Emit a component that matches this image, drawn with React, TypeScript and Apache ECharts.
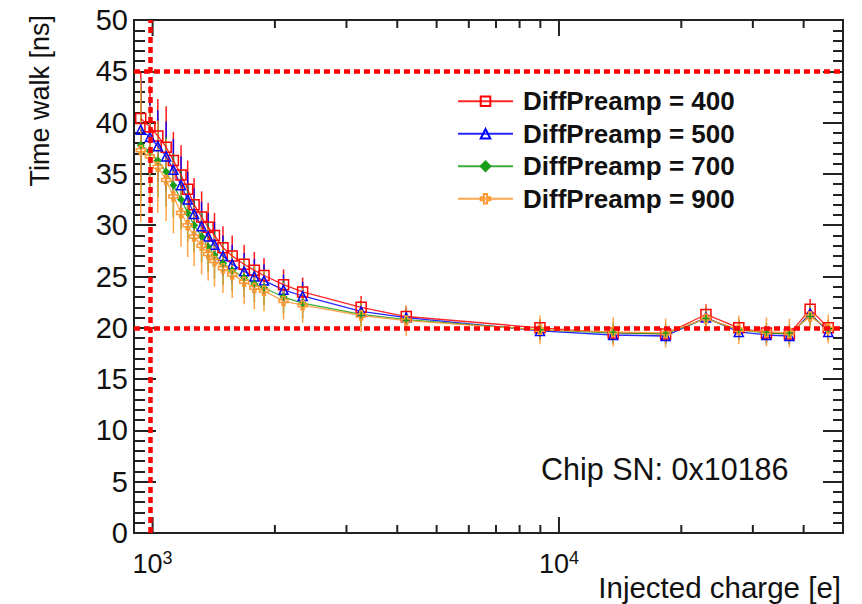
import React, { useEffect, useRef } from "react";
import * as echarts from "echarts";

const CHARGE = [935, 985, 1030, 1080, 1125, 1175, 1220, 1265, 1320, 1370, 1420, 1490, 1570, 1680, 1780, 1880, 2100, 2340, 3260, 4210, 8980, 13600, 18300, 23000, 27700, 32400, 36900, 41500, 46000];

const VAL_400 = [40.4, 39.6, 38.7, 37.6, 36.3, 34.9, 33.5, 32.0, 30.8, 29.8, 29.0, 27.8, 27.0, 26.2, 25.6, 25.1, 24.2, 23.5, 22.0, 21.1, 20.0, 19.5, 19.4, 21.3, 20.0, 19.5, 19.4, 21.8, 20.0];
const ERR_400 = [4.6, 4.0, 3.6, 4.0, 2.8, 2.9, 2.8, 2.6, 2.5, 2.4, 2.2, 2.1, 2.0, 1.9, 1.8, 1.7, 1.5, 1.4, 1.1, 1.0, 0.8, 0.7, 0.7, 1.0, 0.7, 0.7, 0.7, 1.0, 0.7];

const VAL_500 = [39.3, 38.6, 37.7, 36.7, 35.4, 33.9, 32.5, 31.1, 29.9, 28.9, 28.1, 27.0, 26.2, 25.5, 25.0, 24.6, 23.7, 23.1, 21.6, 21.0, 19.7, 19.3, 19.2, 21.0, 19.6, 19.3, 19.2, 21.4, 19.6];
const ERR_500 = [5.0, 3.8, 3.5, 3.4, 3.0, 2.8, 2.7, 2.5, 2.4, 2.3, 2.2, 2.0, 1.9, 1.8, 1.7, 1.6, 1.5, 1.4, 1.1, 1.0, 0.8, 0.8, 0.8, 1.0, 0.8, 0.8, 0.8, 1.0, 0.8];

const VAL_700 = [37.8, 37.2, 36.3, 35.2, 33.9, 32.5, 31.2, 30.0, 28.9, 27.9, 27.1, 26.3, 25.6, 24.9, 24.3, 23.9, 23.0, 22.4, 21.3, 20.8, 19.8, 19.5, 19.4, 20.9, 19.8, 19.5, 19.4, 21.2, 19.8];
const ERR_700 = [5.5, 4.0, 3.6, 3.4, 3.1, 2.9, 2.8, 2.6, 2.5, 2.4, 2.3, 2.1, 2.0, 1.9, 1.8, 1.7, 1.6, 1.5, 1.2, 1.1, 1.0, 1.0, 1.0, 1.0, 1.0, 1.0, 1.0, 1.0, 1.0];

const VAL_900 = [37.3, 36.7, 35.7, 34.4, 32.8, 31.2, 30.0, 28.9, 28.0, 27.2, 26.5, 25.8, 25.2, 24.5, 23.9, 23.6, 22.6, 22.2, 21.2, 20.7, 19.8, 19.6, 19.5, 20.9, 19.8, 19.6, 19.5, 21.1, 19.9];
const ERR_900 = [7.0, 5.0, 4.5, 4.0, 3.6, 3.3, 3.1, 2.9, 2.8, 2.6, 2.5, 2.4, 2.3, 2.2, 2.1, 2.0, 1.8, 1.7, 1.6, 1.5, 1.4, 1.4, 1.4, 1.3, 1.4, 1.4, 1.4, 1.3, 1.4];

const SERIES_NAMES = ["DiffPreamp = 400", "DiffPreamp = 500", "DiffPreamp = 700", "DiffPreamp = 900"];

const X_MAJOR_TICKS = [1000, 10000];
const X_MINOR_TICKS = [2000, 3000, 4000, 5000, 6000, 7000, 8000, 9000, 20000, 30000, 40000];

const H_LINES = [45, 20];
const V_LINE = 985;

const CHIP_LABEL = "Chip SN: 0x10186";

const FONT = "'Liberation Sans', Arial, Helvetica, sans-serif";
const CROSS = "path://M3,0 L6,0 L6,3 L9,3 L9,6 L6,6 L6,9 L3,9 L3,6 L0,6 L0,3 L3,3 Z";

export default function App() {
  const ref = useRef<HTMLDivElement>(null);

  useEffect(() => {
    if (!ref.current) return;
    const chart = echarts.init(ref.current, null, { renderer: "svg" });

    const defs = [
      { name: SERIES_NAMES[0], vals: VAL_400, errs: ERR_400, color: "#ff0000", symbol: "rect", size: 10, fill: "rgba(255,255,255,0)" },
      { name: SERIES_NAMES[1], vals: VAL_500, errs: ERR_500, color: "#0000ff", symbol: "triangle", size: 9, fill: "rgba(255,255,255,0)" },
      { name: SERIES_NAMES[2], vals: VAL_700, errs: ERR_700, color: "#1a9e1a", symbol: "diamond", size: 6, fill: "#1a9e1a" },
      { name: SERIES_NAMES[3], vals: VAL_900, errs: ERR_900, color: "#ff9933", symbol: CROSS, size: 9, fill: "rgba(255,255,255,0)" },
    ];

    const series: any[] = [];
    defs.forEach((d) => {
      series.push({
        type: "custom",
        name: d.name + " err",
        silent: true,
        clip: false,
        data: CHARGE.map((x, i) => [x, d.vals[i], d.errs[i]]),
        renderItem: (params: any, api: any) => {
          const x = api.value(0);
          const y = api.value(1);
          const e = api.value(2);
          const p1 = api.coord([x, y - e]);
          const p2 = api.coord([x, y + e]);
          return {
            type: "line",
            shape: { x1: p1[0], y1: p1[1], x2: p2[0], y2: p2[1] },
            style: { stroke: d.color, lineWidth: 1.5, opacity: 0.9 },
          };
        },
      });
      series.push({
        type: "line",
        name: d.name,
        data: CHARGE.map((x, i) => [x, d.vals[i]]),
        symbol: d.symbol,
        symbolSize: d.size,
        showAllSymbol: true,
        lineStyle: { color: d.color, width: 1.3, opacity: 0.85 },
        itemStyle: { color: d.fill, borderColor: d.color, borderWidth: 1.5 },
        emphasis: { disabled: true },
      });
    });

    const tickData = [
      ...X_MAJOR_TICKS.map((v) => [v, 0, 1]),
      ...X_MINOR_TICKS.map((v) => [v, 0, 0]),
    ];
    series.push({
      type: "custom",
      name: "xticks",
      silent: true,
      clip: false,
      data: tickData,
      renderItem: (params: any, api: any) => {
        const cs = params.coordSys;
        const x = api.coord([api.value(0), 0])[0];
        const len = api.value(2) === 1 ? 16 : 8;
        const bottom = cs.y + cs.height;
        const top = cs.y;
        return {
          type: "group",
          children: [
            { type: "line", shape: { x1: x, y1: bottom, x2: x, y2: bottom - len }, style: { stroke: "#222", lineWidth: 2 } },
            { type: "line", shape: { x1: x, y1: top, x2: x, y2: top + len }, style: { stroke: "#222", lineWidth: 2 } },
          ],
        };
      },
      markLine: {
        silent: true,
        symbol: "none",
        label: { show: false },
        animation: false,
        lineStyle: { color: "#ff0000", width: 4.5, type: [6, 4], opacity: 1 },
        data: [...H_LINES.map((v) => ({ yAxis: v })), { xAxis: V_LINE }],
      },
    });

    const yAxisBase = {
      type: "value",
      min: 0,
      max: 50,
      interval: 5,
      splitLine: { show: false },
      axisLine: { show: false },
      minorTick: { show: true, splitNumber: 5, length: 11, lineStyle: { color: "#222", width: 2 } },
      axisTick: { show: true, inside: true, length: 22, lineStyle: { color: "#222", width: 2 } },
    };

    chart.setOption({
      animation: false,
      backgroundColor: "#ffffff",
      grid: { left: 134, right: 19, top: 20, bottom: 71, show: true, borderColor: "#222", borderWidth: 2, backgroundColor: "transparent" },
      legend: {
        orient: "vertical",
        left: 452,
        top: 80,
        itemWidth: 55,
        itemHeight: 12,
        itemGap: 0,
        data: SERIES_NAMES,
        selectedMode: false,
        textStyle: { fontFamily: FONT, fontWeight: "bold", fontSize: 26, color: "#111", lineHeight: 32.5, padding: [0, 0, 0, 5] },
      },
      xAxis: {
        type: "log",
        logBase: 10,
        min: 900,
        max: 50000,
        splitLine: { show: false },
        axisLine: { show: false },
        axisTick: { show: false },
        minorTick: { show: false },
        axisLabel: {
          margin: 16,
          showMinLabel: false,
          showMaxLabel: false,
          formatter: (v: number) => {
            const e = Math.round(Math.log10(v));
            if (Math.abs(v - Math.pow(10, e)) < 1e-6 * v) return `{b|10}{s|${e}}`;
            return "";
          },
          rich: {
            b: { fontFamily: FONT, fontSize: 27, color: "#111", lineHeight: 30 },
            s: { fontFamily: FONT, fontSize: 18, color: "#111", verticalAlign: "top", lineHeight: 18 },
          },
        },
      },
      yAxis: [
        {
          ...yAxisBase,
          position: "left",
          axisLabel: { margin: 6, fontFamily: FONT, fontSize: 29, color: "#111" },
        },
        {
          ...yAxisBase,
          position: "right",
          axisLabel: { show: false },
          axisTick: { show: true, inside: true, length: 20, lineStyle: { color: "#222", width: 2 } },
          minorTick: { show: true, splitNumber: 5, length: 10, lineStyle: { color: "#222", width: 2 } },
        },
      ],
      graphic: [
        {
          type: "text",
          x: 40,
          y: 15,
          rotation: Math.PI / 2,
          style: { text: "Time walk [ns]", fontFamily: FONT, fontSize: 27, fill: "#111", align: "right", verticalAlign: "middle" },
        },
        {
          type: "text",
          x: 841,
          y: 587,
          style: { text: "Injected charge [e]", fontFamily: FONT, fontSize: 29.5, fill: "#111", align: "right", verticalAlign: "middle" },
        },
        {
          type: "text",
          x: 541,
          y: 469,
          style: { text: CHIP_LABEL, fontFamily: FONT, fontSize: 30.5, fill: "#111", align: "left", verticalAlign: "middle" },
        },
      ],
      series,
    });

    return () => chart.dispose();
  }, []);

  return <div ref={ref} style={{ position: "fixed", left: 0, top: 0, width: 862, height: 604 }} />;
}
